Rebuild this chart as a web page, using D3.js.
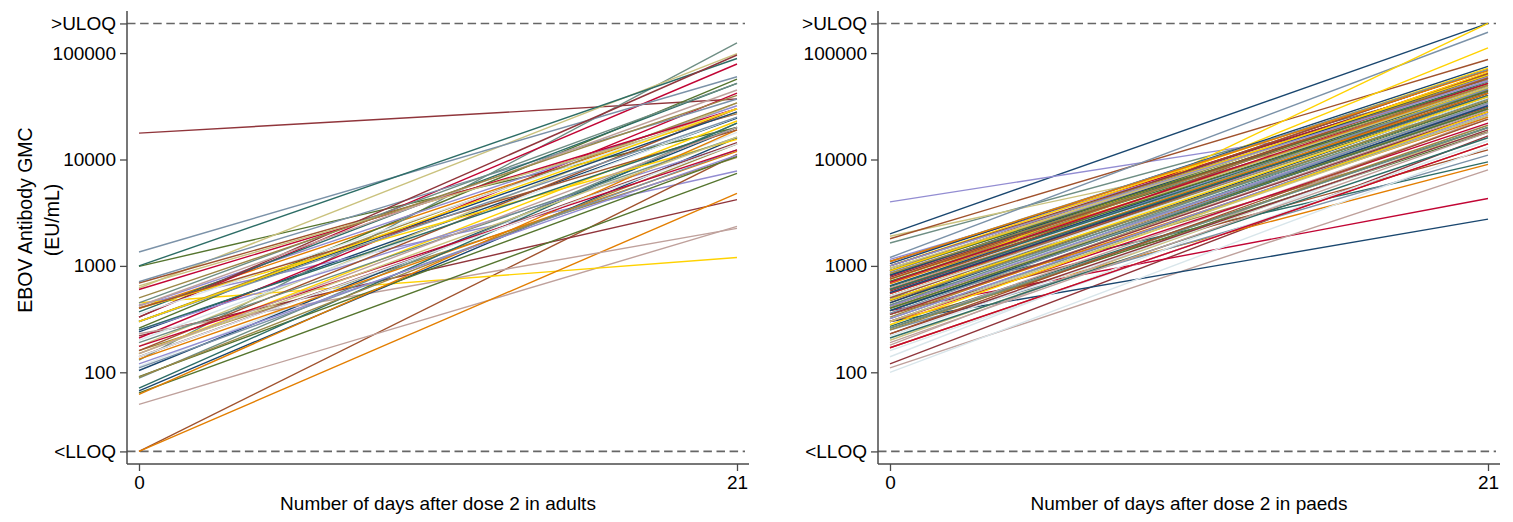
<!DOCTYPE html>
<html><head><meta charset="utf-8">
<script src="https://cdn.jsdelivr.net/npm/d3@7"></script>
<style>
html,body{margin:0;padding:0;background:#fff;}
svg text{font-family:"Liberation Sans",Arial,Helvetica,sans-serif;fill:#000;}
</style></head>
<body>
<svg id="chart" width="1513" height="522"></svg>
<script>
// Stata s2color line palette (cycled by subject index)
const palette = ["#1a476f","#90353b","#55752f","#e37e00","#6e8e84","#c10534","#938dd2","#cac27e","#a0522d","#7b92a8","#2d6d66","#9c8847","#bfa19c","#ffd200","#d9e6eb"];

const days = [0, 21];
const xTicks = [0, 21];
const yTickValues = [100, 1000, 10000, 100000];
const ULOQ = 190000;
const LLOQ = 18.05;
const yTitle = ["EBOV Antibody GMC", "(EU/mL)"];
const xTitles = ["Number of days after dose 2 in adults", "Number of days after dose 2 in paeds"];

// Adults: value at day 0 and day 21 per subject
const adultsDay0 = [
  240, 17700, 990, 400, 130, 330, 430, 620, 18.05, 1350, 1000, 160, 50, 450, 113,
  104, 220, 260, 18.05, 88, 210, 420, 175, 690, 710, 370, 300, 230, 150, 200,
  67, 330, 91, 133, 450, 600, 250, 650, 160, 110, 71, 90, 420, 400, 350,
  300, 140, 64, 62, 190, 175, 120, 150, 400, 300, 250, 500, 150, 300, 140
];
const adultsDay21 = [
  24500, 37000, 20000, 30000, 125000, 79000, 7800, 99000, 11200, 60000, 89000, 10500, 2350, 1200, 18000,
  20000, 4200, 57000, 4800, 22000, 42000, 32000, 34000, 27000, 37000, 52000, 34000, 2250, 23000, 25000,
  16000, 96000, 10700, 11900, 52000, 30000, 14000, 27500, 30000, 12300, 22000, 14000, 45000, 15500, 30000,
  28000, 14400, 7400, 19000, 16200, 12300, 11000, 16200, 19000, 25000, 20000, 40000, 20000, 30000, 14000
];

// Paediatrics
const paedsDay0 = [
  2000, 120, 850, 300, 1640, 380, 4000, 1900, 1800, 1200, 500, 400, 110, 400, 650,
  300, 900, 600, 750, 950, 1100, 1150, 200, 350, 250, 420, 700, 180, 600, 140,
  1050, 450, 300, 520, 380, 800, 650, 560, 900, 700, 270, 330, 500, 1000, 420,
  650, 1000, 480, 350, 700, 600, 500, 850, 420, 900, 640, 550, 260, 750, 300,
  450, 780, 260, 680, 520, 300, 880, 400, 600, 480, 820, 1000, 350, 550, 220,
  820, 350, 900, 170, 320, 550, 420, 700, 500, 1100, 380, 250, 620, 900, 160,
  380, 580, 720, 1100, 430, 170, 320, 950, 750, 560, 210, 470, 400, 280, 520,
  560, 230, 400, 600, 260, 700, 1000, 300, 230, 360, 600, 850, 190, 480, 100
];
const paedsDay21 = [
  190000, 16700, 45000, 9000, 56000, 4300, 30000, 30000, 87000, 157000, 9500, 18300, 8000, 190000, 40000,
  2750, 70000, 38000, 48000, 42000, 60000, 52000, 20000, 12300, 11000, 35000, 62000, 25000, 112000, 22000,
  75000, 55000, 28000, 42000, 30000, 65000, 45000, 40000, 70000, 38000, 20000, 33000, 46000, 72000, 36000,
  48000, 62000, 35000, 25000, 50000, 40000, 43000, 52000, 31000, 58000, 44000, 38000, 24000, 66000, 27000,
  39000, 58000, 18000, 50000, 32000, 22000, 60000, 34000, 64000, 30000, 54000, 58000, 29000, 47000, 19000,
  62000, 28000, 52000, 14000, 26000, 42000, 33000, 48000, 45000, 70000, 30000, 21000, 40000, 62000, 15000,
  32000, 42000, 44000, 68000, 37000, 14000, 27000, 55000, 58000, 46000, 16000, 36000, 30000, 28000, 38000,
  42000, 19000, 30000, 42000, 20000, 52000, 55000, 26000, 24000, 34000, 40000, 50000, 18000, 39000, 13000
];

const svg = d3.select("#chart");
const FS = 19;
const axisColor = "#4a4a4a";

const panels = [
  {d0: adultsDay0, d21: adultsDay21, axisX: 127, x0: 139, x1: 737, xEnd: 749, dashEnd: 745, title: xTitles[0], ytitle: true},
  {d0: paedsDay0, d21: paedsDay21, axisX: 878, x0: 890, x1: 1488, xEnd: 1500, dashEnd: 1496, title: xTitles[1], ytitle: false}
];

const y = d3.scaleLog().domain([100, 100000]).range([372.3, 53.1]);
const axisTop = 11, axisBottom = 464;

panels.forEach(p => {
  const x = d3.scaleLinear().domain([0, 21]).range([p.x0, p.x1]);
  const g = svg.append("g");

  // reference lines
  [ULOQ, LLOQ].forEach(v => {
    g.append("line")
      .attr("x1", p.axisX).attr("x2", p.dashEnd)
      .attr("y1", y(v)).attr("y2", y(v))
      .attr("stroke", "#666").attr("stroke-width", 1.6)
      .attr("stroke-dasharray", "8.5,4.6");
  });

  // subject lines
  const line = d3.line().x(d => x(d[0])).y(d => y(d[1]));
  p.d0.forEach((v, i) => {
    g.append("path")
      .attr("d", line([[days[0], v], [days[1], p.d21[i]]]))
      .attr("fill", "none")
      .attr("stroke", palette[i % palette.length])
      .attr("stroke-width", 1.4);
  });

  // y axis
  const yVals = [LLOQ, ...yTickValues, ULOQ];
  const yAxis = d3.axisLeft(y).tickValues(yVals).tickSize(7).tickPadding(4)
    .tickFormat(d => d === ULOQ ? ">ULOQ" : d === LLOQ ? "<LLOQ" : String(d));
  const ya = g.append("g").attr("transform", `translate(${p.axisX},0)`).call(yAxis);
  ya.select(".domain").remove();
  ya.selectAll(".tick line").attr("stroke", axisColor).attr("stroke-width", 1.3);
  ya.selectAll(".tick text").attr("font-size", FS).attr("fill", "#000")
    .attr("font-family", '"Liberation Sans",Arial,Helvetica,sans-serif');
  g.append("line").attr("x1", p.axisX).attr("x2", p.axisX)
    .attr("y1", axisTop).attr("y2", axisBottom)
    .attr("stroke", axisColor).attr("stroke-width", 1.5);

  // x axis
  const xAxis = d3.axisBottom(x).tickValues(xTicks).tickSize(7).tickPadding(5).tickFormat(d3.format("d"));
  const xa = g.append("g").attr("transform", `translate(0,${axisBottom})`).call(xAxis);
  xa.select(".domain").remove();
  xa.selectAll(".tick line").attr("stroke", axisColor).attr("stroke-width", 1.3);
  xa.selectAll(".tick text").attr("font-size", FS).attr("fill", "#000")
    .attr("font-family", '"Liberation Sans",Arial,Helvetica,sans-serif');
  g.append("line").attr("x1", p.axisX).attr("x2", p.xEnd)
    .attr("y1", axisBottom).attr("y2", axisBottom)
    .attr("stroke", axisColor).attr("stroke-width", 1.5);

  // x title
  g.append("text").attr("x", (p.x0 + p.x1) / 2).attr("y", 510)
    .attr("text-anchor", "middle").attr("font-size", FS).text(p.title);

  if (p.ytitle) {
    g.append("text").attr("transform", "translate(32,220) rotate(-90)")
      .attr("text-anchor", "middle").attr("font-size", FS + 0.5).text(yTitle[0]);
    g.append("text").attr("transform", "translate(58.5,220) rotate(-90)")
      .attr("text-anchor", "middle").attr("font-size", FS + 0.5).text(yTitle[1]);
  }
});
</script>
</body></html>
